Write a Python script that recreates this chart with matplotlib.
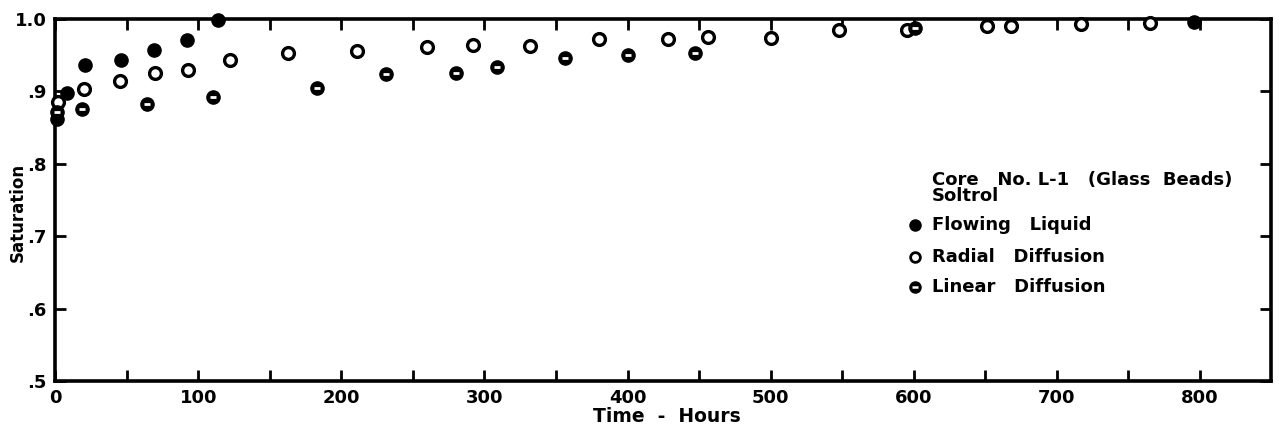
import numpy as np
import matplotlib
matplotlib.use("Agg")
import matplotlib.pyplot as plt

# values
flow_t = [1, 8, 21, 46, 69, 92, 114, 796]
flow_s = [0.862, 0.898, 0.937, 0.944, 0.957, 0.971, 0.999, 0.996]

radial_t = [2, 20, 45, 70, 93, 122, 163, 211, 260, 292, 332, 380, 428, 456,
            500, 548, 595, 651, 668, 717, 765]
radial_s = [0.885, 0.904, 0.914, 0.925, 0.929, 0.943, 0.953, 0.956, 0.962,
            0.964, 0.963, 0.973, 0.973, 0.975, 0.974, 0.985, 0.985, 0.990,
            0.990, 0.993, 0.994]

linear_t = [1, 19, 64, 110, 183, 231, 280, 309, 356, 400, 447, 601]
linear_s = [0.872, 0.876, 0.882, 0.892, 0.905, 0.924, 0.926, 0.934, 0.946,
            0.951, 0.953, 0.988]

xticks = [0, 100, 200, 300, 400, 500, 600, 700, 800]
yticks = [0.5, 0.6, 0.7, 0.8, 0.9, 1.0]
ylabels = [".5", ".6", ".7", ".8", ".9", "1.0"]

plt.rcParams['font.family'] = ['DejaVu Sans']
plt.rcParams['font.weight'] = 'bold'

fig = plt.figure(figsize=(12.83, 4.33), dpi=100)
ax = fig.add_axes([0.043, 0.12, 0.948, 0.836])

ms = 9.5
ax.plot(flow_t, flow_s, 'o', color='black', ms=ms, clip_on=False, zorder=5)
ax.plot(radial_t, radial_s, 'o', mfc='white', mec='black', mew=2.4, ms=ms - 1,
        clip_on=False, zorder=5)
ax.plot(linear_t, linear_s, 'o', color='black', ms=ms, clip_on=False, zorder=5)
ax.plot(linear_t, linear_s, '_', color='white', ms=4.5, mew=2, clip_on=False, zorder=6)

ax.set_xlim(0, 850)
ax.set_ylim(0.5, 1.0)
ax.set_xticks(xticks)
ax.set_xticks(np.arange(50, 850, 50), minor=True)
ax.set_yticks(yticks)
ax.set_yticklabels(ylabels)
ax.tick_params(axis='both', which='both', direction='in', width=2, length=8,
               top=True, right=True, labelsize=13, pad=6)
for lab in ax.get_xticklabels() + ax.get_yticklabels():
    lab.set_fontweight('bold')
for sp in ax.spines.values():
    sp.set_linewidth(2.6)

fig.text(18 / 1283, 1 - 212 / 433, "Saturation", rotation=90, fontsize=12,
         fontweight='bold', ha='center', va='center')
ax.text(0.503, -0.072, "Time  -  Hours", transform=ax.transAxes, fontsize=13.5,
        fontweight='bold', ha='center', va='top')

# legend block
tx, mx = 0.7206, 0.7067
fs = 13
ax.text(tx, 0.555, "Core   No. L-1   (Glass  Beads)", transform=ax.transAxes,
        fontsize=fs, fontweight='bold', va='center')
ax.text(tx, 0.512, "Soltrol", transform=ax.transAxes,
        fontsize=fs, fontweight='bold', va='center')
rows = [("Flowing   Liquid", 0.431), ("Radial   Diffusion", 0.343),
        ("Linear   Diffusion", 0.260)]
for i, (name, yy) in enumerate(rows):
    ax.text(tx, yy, name, transform=ax.transAxes, fontsize=fs,
            fontweight='bold', va='center')
    if i == 0:
        ax.plot([mx], [yy], 'o', color='black', ms=8, transform=ax.transAxes)
    elif i == 1:
        ax.plot([mx], [yy], 'o', mfc='white', mec='black', mew=2, ms=7,
                transform=ax.transAxes)
    else:
        ax.plot([mx], [yy], 'o', color='black', ms=8, transform=ax.transAxes)
        ax.plot([mx], [yy], '_', color='white', ms=4, mew=1.8,
                transform=ax.transAxes)

fig.savefig("out.png", dpi=100)
